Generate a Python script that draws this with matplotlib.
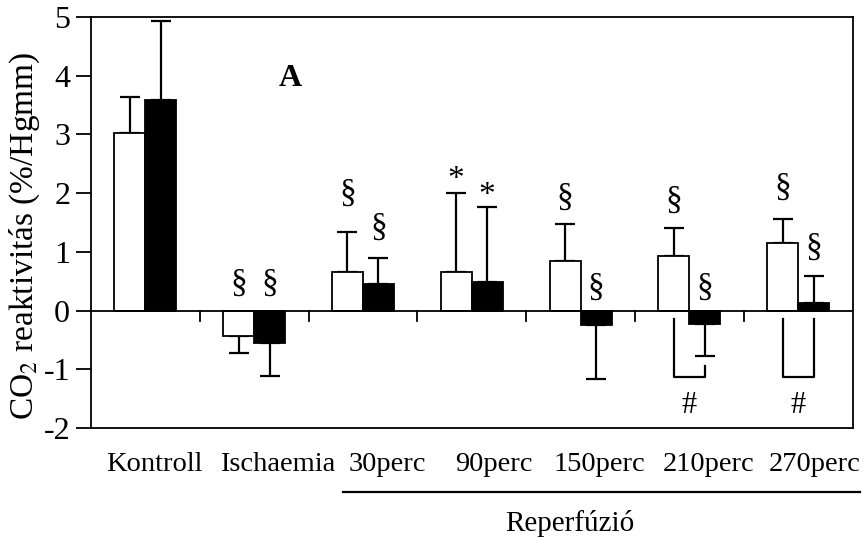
import matplotlib.pyplot as plt
import matplotlib
import numpy as np

matplotlib.rcParams['font.family'] = ['Liberation Serif', 'DejaVu Serif']
matplotlib.rcParams['mathtext.fontset'] = 'stix'
matplotlib.rcParams['axes.unicode_minus'] = False

groups = ["Kontroll", "Ischaemia", "30perc", "90perc", "150perc", "210perc", "270perc"]
white_vals = [3.03, -0.44, 0.65, 0.65, 0.85, 0.93, 1.15]
white_err = [0.60, 0.29, 0.68, 1.35, 0.62, 0.48, 0.41]
black_vals = [3.59, -0.55, 0.45, 0.48, -0.24, -0.23, 0.13]
black_err = [1.34, 0.57, 0.44, 1.29, 0.93, 0.54, 0.46]

# significance marks above/below each bar: (symbol, y)
white_marks = [("", 0), ("§", 0.46), ("§", 1.99), ("*", 2.23), ("§", 1.93), ("§", 1.87), ("§", 2.10)]
black_marks = [("", 0), ("§", 0.46), ("§", 1.41), ("*", 1.96), ("§", 0.39), ("§", 0.39), ("§", 1.07)]

fig = plt.figure(figsize=(8.64, 5.41), dpi=100)
ax = fig.add_axes([0.1053, 0.2089, 0.8814, 0.7597])

x = np.arange(len(groups))
w = 0.285
xw = x - w / 2
xb = x + w / 2

ax.bar(xw, white_vals, w, color="white", edgecolor="black", linewidth=1.3, zorder=2)
ax.bar(xb, black_vals, w, color="black", edgecolor="black", linewidth=1.3, zorder=2)

# one-sided error bars in the direction of the bar
for xs, vals, errs in [(xw, white_vals, white_err), (xb, black_vals, black_err)]:
    for xi, v, e in zip(xs, vals, errs):
        sgn = 1 if v >= 0 else -1
        ax.errorbar(xi, v, yerr=[[0], [e]] if sgn > 0 else [[e], [0]], fmt="none",
                    ecolor="black", elinewidth=1.6, capsize=7, capthick=1.6, zorder=1)

for xs, marks in [(xw, white_marks), (xb, black_marks)]:
    for xi, (s, y) in zip(xs, marks):
        if s:
            ax.text(xi, y, s, ha="center", va="center", fontsize=24)

# zero line with group separators
ax.axhline(0, color="black", linewidth=1.3, zorder=3)
for b in np.arange(0.5, len(groups) - 1, 1.0):
    ax.plot([b, b], [0, -0.18], color="black", linewidth=1.3, zorder=3)

# brackets with #
for g in [5, 6]:
    left, right = xw[g], xb[g]
    top_r = -0.94 if g == 5 else -0.14
    ax.plot([left, left, right, right], [-0.14, -1.14, -1.14, top_r], color="black", linewidth=1.6)
    ax.text(g, -1.62, "#", ha="center", va="center", fontsize=22)

ax.text(1.33, 3.95, "A", ha="center", va="center", fontsize=23, fontweight="bold")

ax.set_xlim(-0.5, len(groups) - 0.5)
ax.set_ylim(-2, 5)
ax.set_yticks(range(-2, 6))
ax.set_xticks([])
ax.tick_params(axis="y", direction="out", length=11, width=1.3, labelsize=23, pad=4)
for s in ax.spines.values():
    s.set_linewidth(1.3)
fig.text(0.029, 0.564, "CO$_2$ reaktivitás (%/Hgmm)", rotation=90, ha="center", va="center", fontsize=24)

# category labels sit a little right of the group centres, as in the original
label_dx = [0.08, 0.22, 0.22, 0.2, 0.17, 0.18, 0.15]
for i, g in enumerate(groups):
    ax.text(i + label_dx[i], -0.09, g, transform=ax.get_xaxis_transform(), ha="center", va="center", fontsize=20.5)

fig.add_artist(plt.Line2D([0.397, 0.995], [0.0906, 0.0906], color="black", linewidth=1.6))
fig.text(0.66, 0.033, "Reperfúzió", ha="center", va="center", fontsize=21)

plt.savefig("out.png", dpi=100)
